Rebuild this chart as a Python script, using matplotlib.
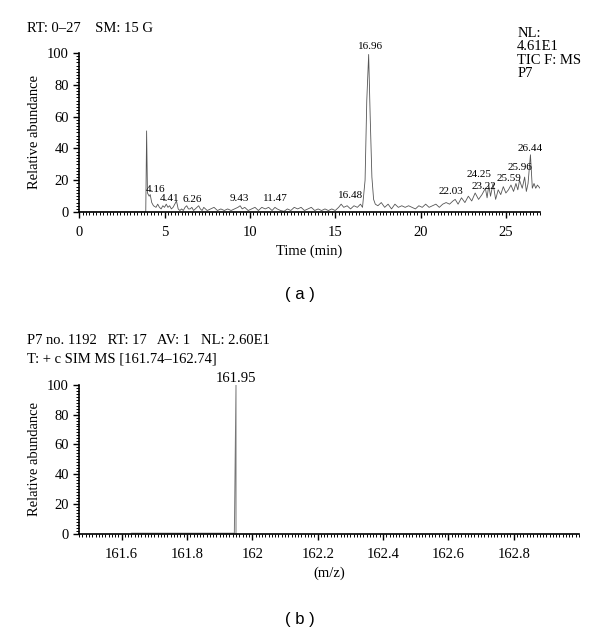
import numpy as np
import matplotlib.pyplot as plt
from matplotlib.ticker import MultipleLocator

# ---- data (a): TIC chromatogram ----
rt = [0.0, 3.9, 3.95, 4.0, 4.1, 4.16, 4.25, 4.35, 4.5, 4.6, 4.7, 4.8, 4.9, 5.0,
      5.1, 5.2, 5.3, 5.4, 5.5, 5.6, 5.7, 5.8, 5.9, 6.0, 6.1, 6.2, 6.3, 6.4, 6.5,
      6.6, 6.7, 6.8, 6.9, 7.0, 7.1, 7.2, 7.3, 7.4, 7.5, 7.7, 7.9, 8.1, 8.3, 8.5,
      8.7, 8.9, 9.1, 9.3, 9.43, 9.55, 9.7, 9.9, 10.1, 10.3, 10.5, 10.7, 10.9,
      11.1, 11.3, 11.47, 11.6, 11.8, 12.0, 12.2, 12.4, 12.6, 12.8, 13.0, 13.2,
      13.4, 13.6, 13.8, 14.0, 14.2, 14.4, 14.6, 14.8, 15.0, 15.2, 15.35, 15.5,
      15.7, 15.9, 16.1, 16.3, 16.48, 16.6, 16.75, 16.85, 16.96, 17.05, 17.15,
      17.25, 17.35, 17.5, 17.7, 17.9, 18.1, 18.3, 18.5, 18.7, 18.9, 19.1, 19.3,
      19.5, 19.7, 19.9, 20.1, 20.3, 20.5, 20.7, 20.9, 21.1, 21.3, 21.5, 21.7,
      21.9, 22.03, 22.2, 22.4, 22.6, 22.8, 23.0, 23.2, 23.4, 23.6, 23.8, 23.9,
      24.0, 24.1, 24.25, 24.4, 24.55, 24.7, 24.85, 25.0, 25.15, 25.3, 25.45,
      25.59, 25.7, 25.8, 25.96, 26.1, 26.2, 26.3, 26.44, 26.55, 26.65, 26.75,
      26.85, 27.0]
abund = [0, 0, 51, 12, 10, 11, 6, 4, 3, 5, 3, 2, 4, 3,
         5, 3, 4, 2, 3, 5, 7, 2, 1, 2, 1, 3, 4, 2, 2,
         3, 1, 2, 3, 4, 2, 1, 3, 2, 1, 2, 3, 1, 2, 1,
         2, 1, 2, 3, 4, 2, 3, 1, 2, 3, 1, 3, 2,
         3, 1, 3, 2, 1, 0.5, 2, 1, 3, 2, 3, 1,
         2, 3, 1, 2, 1, 2, 1, 2, 1, 3, 5, 3,
         4, 2, 4, 3, 5, 3, 20, 70, 99, 60, 22,
         8, 5, 4, 6, 3, 5, 2, 5, 3, 4, 3, 4,
         3, 2, 4, 3, 5, 3, 4, 5, 3, 5, 6, 5,
         7, 8, 5, 9, 6, 10, 7, 12, 8, 11, 15, 9,
         17, 10, 18, 8, 14, 11, 16, 12, 14, 17, 13,
         18, 14, 20, 15, 22, 13, 18, 36, 15, 18, 15,
         17, 15]

peak_lbl = ['4.16', '4.41', '6.26', '9.43', '11.47', '16.48', '16.96',
            '22.03', '23.22', '24.25', '25.59', '25.96', '26.44']
lbl_x = [4.45, 5.3, 6.6, 9.4, 11.5, 15.9, 17.1, 21.8, 23.7, 23.4, 25.2, 25.8, 26.4]
lbl_y = [11.5, 5.5, 5, 5.5, 5.5, 7.5, 101, 10, 13.5, 21, 18, 25, 37]

# ---- data (b): SIM spectrum ----
mz = [161.63, 161.945, 161.95, 161.95]
rel = [0.4, 0.4, 100, 0]

plt.rcParams['font.family'] = ['Liberation Serif', 'DejaVu Serif']
fig = plt.figure(figsize=(6.0, 6.37), dpi=100)

def style(ax):
    for s in ['top', 'right']:
        ax.spines[s].set_visible(False)
    ax.spines['left'].set_linewidth(1.2)
    ax.spines['bottom'].set_linewidth(1.2)
    ax.tick_params(which='major', direction='out', length=4, width=1, labelsize=10.5)
    ax.tick_params(which='minor', direction='out', length=2.5, width=0.7)
    ax.set_ylim(0, 100)
    ax.yaxis.set_major_locator(MultipleLocator(20))
    ax.yaxis.set_minor_locator(MultipleLocator(2))
    ax.set_ylabel('Relative abundance', fontsize=10.5)

# (a)
ax1 = fig.add_axes([0.132, 0.667, 0.768, 0.25])
ax1.plot(rt, abund, color='#555555', lw=0.6)
style(ax1)
ax1.set_xlim(0, 27)
ax1.xaxis.set_major_locator(MultipleLocator(5))
ax1.xaxis.set_minor_locator(MultipleLocator(0.2))
ax1.tick_params(axis='x', pad=6)
ax1.set_xlabel('Time (min)', fontsize=10.5)
for t, x, y in zip(peak_lbl, lbl_x, lbl_y):
    ax1.text(x, y, t, fontsize=8, ha='center', va='bottom')
fig.text(0.045, 0.955, 'RT: 0\u201327    SM: 15 G', fontsize=10.5, va='center')
fig.text(0.862, 0.958, 'NL:\n4.61E1\nTIC F: MS\nP7', fontsize=10.5, va='top',
         linespacing=1.05)
fig.text(0.5, 0.537, '( a )', fontsize=12, ha='center', va='center',
         family='Liberation Sans')

# (b)
ax2 = fig.add_axes([0.132, 0.162, 0.833, 0.234])
ax2.plot(mz, rel, color='#777777', lw=0.7)
style(ax2)
ax2.set_xlim(161.47, 163.0)
ax2.set_xticks([161.6, 161.8, 162.0, 162.2, 162.4, 162.6, 162.8])
ax2.set_xticklabels(['161.6', '161.8', '162', '162.2', '162.4', '162.6', '162.8'])
ax2.xaxis.set_minor_locator(MultipleLocator(0.01))
ax2.tick_params(axis='x', pad=6)
ax2.set_xlabel('(m/z)', fontsize=10.5)
ax2.text(161.95, 100, '161.95', fontsize=10.5, ha='center', va='bottom')
fig.text(0.045, 0.465, 'P7 no. 1192   RT: 17   AV: 1   NL: 2.60E1', fontsize=10.5,
         va='center')
fig.text(0.045, 0.437, 'T: + c SIM MS [161.74\u2013162.74]', fontsize=10.5,
         va='center')
fig.text(0.5, 0.027, '( b )', fontsize=12, ha='center', va='center',
         family='Liberation Sans')

fig.savefig('out.png', dpi=100)
